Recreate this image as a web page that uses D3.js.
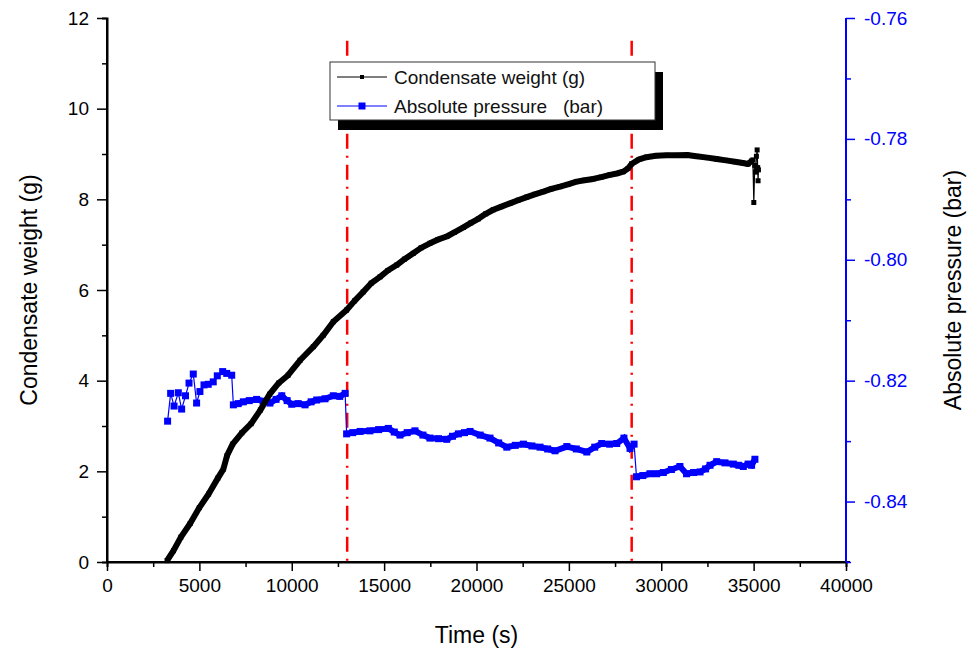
<!DOCTYPE html>
<html>
<head>
<meta charset="utf-8">
<script src="https://cdn.jsdelivr.net/npm/d3@7"></script>
<style>
  body { margin: 0; background: #fff; }
  svg { font-family: Arial, "Liberation Sans", sans-serif; }
</style>
</head>
<body>
<svg id="chart" width="968" height="652"></svg>
<script>
// time (s) and condensate weight (g)
var weightTime = [3250, 3600, 4000, 4500, 5000, 5500, 6000, 6300, 6500, 6800, 7300, 7800, 8300, 8800, 9300, 9800,
    10450, 11170, 11700, 12250, 12970, 13400, 13870, 14300, 14780, 15200, 15680, 16100, 16580, 17000, 17480,
    17900, 18390, 18800, 19290, 19700, 20100, 20500, 20910, 21350, 21810, 22250, 22720, 23150, 23620, 24050,
    24520, 24950, 25420, 25850, 26320, 26750, 27220, 27600, 27940, 28200, 28390, 28800, 29200, 29700, 30300,
    30900, 31400, 31900, 32500, 33000, 33500, 34000, 34420, 34700, 34900, 34960, 35010, 35060, 35100, 35150,
    35190, 35220, 35240, 35260];
var weightValue = [0.03, 0.25, 0.55, 0.85, 1.2, 1.5, 1.85, 2.05, 2.35, 2.6, 2.85, 3.05, 3.35, 3.7, 3.95, 4.12,
    4.45, 4.75, 5.0, 5.3, 5.56, 5.76, 5.96, 6.15, 6.29, 6.43, 6.55, 6.68, 6.81, 6.93, 7.03,
    7.11, 7.18, 7.27, 7.38, 7.48, 7.57, 7.68, 7.77, 7.84, 7.91, 7.98, 8.05, 8.11, 8.17, 8.23,
    8.28, 8.33, 8.39, 8.42, 8.45, 8.49, 8.54, 8.57, 8.61, 8.68, 8.78, 8.88, 8.93, 8.96, 8.97,
    8.97, 8.98, 8.95, 8.92, 8.89, 8.86, 8.83, 8.8, 8.78, 8.85, 8.87, 7.93, 8.75, 8.6, 8.95,
    9.09, 8.7, 8.41, 8.65];

// time (s) and absolute pressure (bar)
var pressureTime = [3280, 3445, 3630, 3860, 4040, 4250, 4440, 4670, 4850, 5030, 5250, 5480, 5750, 5970, 6260,
    6480, 6750, 6840, 7100, 7380, 7700, 8100, 8450, 8820, 9150, 9460, 9750, 10000, 10350, 10720, 11050,
    11350, 11800, 12250, 12600, 12890, 12970, 13300, 13700, 14230, 14700, 15230, 15550, 15860, 16250,
    16670, 17100, 17480, 17950, 18390, 18700, 19020, 19350, 19650, 20200, 20730, 21200, 21640, 22100,
    22540, 23000, 23440, 23850, 24250, 24890, 25400, 25970, 26400, 26780, 27200, 27590, 27980, 28310,
    28530, 28660, 29000, 29390, 29750, 30110, 30550, 31010, 31370, 31750, 32100, 32400, 32640, 33000,
    33450, 33900, 34200, 34440, 34700, 34890, 35070];
var pressureValue = [-0.8267, -0.8221, -0.8242, -0.8220, -0.8247, -0.8225, -0.8204, -0.8189, -0.8237, -0.8218,
    -0.8207, -0.8206, -0.8202, -0.8192, -0.8185, -0.8188, -0.8191, -0.8240, -0.8238, -0.8235, -0.8233,
    -0.8231, -0.8234, -0.8237, -0.8231, -0.8225, -0.8233, -0.8239, -0.8238, -0.8240, -0.8235, -0.8232,
    -0.8230, -0.8225, -0.8226, -0.8221, -0.8288, -0.8286, -0.8284, -0.8283, -0.8281, -0.8279, -0.8285,
    -0.8290, -0.8286, -0.8283, -0.8290, -0.8295, -0.8296, -0.8297, -0.8292, -0.8288, -0.8286, -0.8284,
    -0.8290, -0.8295, -0.8303, -0.8310, -0.8307, -0.8305, -0.8308, -0.8310, -0.8313, -0.8316, -0.8309,
    -0.8313, -0.8318, -0.8310, -0.8304, -0.8305, -0.8304, -0.8295, -0.8312, -0.8305, -0.8359, -0.8357,
    -0.8354, -0.8354, -0.8352, -0.8347, -0.8342, -0.8354, -0.8352, -0.8351, -0.8346, -0.8340, -0.8334,
    -0.8336, -0.8338, -0.8340, -0.8342, -0.8338, -0.8340, -0.8330];

// vertical stage markers (s)
var stageLines = [13000, 28400];

var xTicks = [0, 5000, 10000, 15000, 20000, 25000, 30000, 35000, 40000];
var yLeftTicks = [0, 2, 4, 6, 8, 10, 12];
var yRightTicks = [-0.84, -0.82, -0.80, -0.78, -0.76];

var legendLabels = ["Condensate weight (g)", "Absolute pressure   (bar)"];

var svg = d3.select("#chart");
var margin = {left: 107, right: 122, top: 18, bottom: 90};
var W = 968, H = 652;

var x = d3.scaleLinear().domain([0, 40000]).range([margin.left, W - margin.right]);
var yL = d3.scaleLinear().domain([0, 12]).range([H - margin.bottom, margin.top]);
var yR = d3.scaleLinear().domain([-0.85, -0.76]).range([H - margin.bottom, margin.top]);

var weight = weightTime.map(function(t, i) { return {t: t, v: weightValue[i]}; });
var pressure = pressureTime.map(function(t, i) { return {t: t, v: pressureValue[i]}; });

// red dash-dot stage lines
svg.selectAll(".stage")
    .data(stageLines)
    .enter().append("line")
    .attr("class", "stage")
    .attr("x1", function(d) { return x(d); })
    .attr("x2", function(d) { return x(d); })
    .attr("y1", yL(11.5))
    .attr("y2", yL(0))
    .attr("stroke", "#ff0000")
    .attr("stroke-width", 2.5)
    .attr("stroke-dasharray", "15,7,2,7");

// pressure series (blue); after the first stage the markers overlap into a band
var pLine = d3.line().x(function(d) { return x(d.t); }).y(function(d) { return yR(d.v); });
svg.append("path")
    .datum(pressure)
    .attr("d", pLine)
    .attr("fill", "none")
    .attr("stroke", "#0000ff")
    .attr("stroke-width", 1.2);
[[6840, 12890], [12970, 28530], [28660, 35070]].forEach(function(seg) {
    svg.append("path")
        .datum(pressure.filter(function(d) { return d.t >= seg[0] && d.t <= seg[1]; }))
        .attr("d", pLine)
        .attr("fill", "none")
        .attr("stroke", "#0000ff")
        .attr("stroke-width", 6);
});
svg.selectAll(".pm")
    .data(pressure)
    .enter().append("rect")
    .attr("class", "pm")
    .attr("x", function(d) { return x(d.t) - 3.5; })
    .attr("y", function(d) { return yR(d.v) - 3.5; })
    .attr("width", 7)
    .attr("height", 7)
    .attr("fill", "#0000ff");

// weight series (black, dense markers drawn as a thick band)
var wLine = d3.line().x(function(d) { return x(d.t); }).y(function(d) { return yL(d.v); });
svg.append("path")
    .datum(weight.filter(function(d) { return d.t < 34950; }))
    .attr("d", wLine)
    .attr("fill", "none")
    .attr("stroke", "#000")
    .attr("stroke-width", 6)
    .attr("stroke-linejoin", "round");
svg.append("path")
    .datum(weight)
    .attr("d", wLine)
    .attr("fill", "none")
    .attr("stroke", "#000")
    .attr("stroke-width", 1.2);
svg.selectAll(".wm")
    .data(weight)
    .enter().append("rect")
    .attr("class", "wm")
    .attr("x", function(d) { return x(d.t) - 2.5; })
    .attr("y", function(d) { return yL(d.v) - 2.5; })
    .attr("width", 5)
    .attr("height", 5)
    .attr("fill", "#000");

// axes
var hyphenFmt = function(d) { return d3.format(".2f")(d).replace("\u2212", "-"); };

var bottomAxis = svg.append("g")
    .attr("transform", "translate(0," + yL(0) + ")")
    .call(d3.axisBottom(x).tickValues(xTicks).tickSize(9).tickPadding(8).tickFormat(d3.format("d")));
svg.append("g")
    .attr("transform", "translate(0," + yL(0) + ")")
    .call(d3.axisBottom(x).tickValues(d3.range(2500, 40000, 5000)).tickSize(5).tickFormat(""));

var leftAxis = svg.append("g")
    .attr("transform", "translate(" + margin.left + ",0)")
    .call(d3.axisLeft(yL).tickValues(yLeftTicks).tickSize(10).tickPadding(8).tickFormat(d3.format("d")));
svg.append("g")
    .attr("transform", "translate(" + margin.left + ",0)")
    .call(d3.axisLeft(yL).tickValues(d3.range(1, 12, 2)).tickSize(5).tickFormat(""));

var rightAxis = svg.append("g")
    .attr("class", "right")
    .attr("transform", "translate(" + (W - margin.right) + ",0)")
    .call(d3.axisRight(yR).tickValues(yRightTicks).tickSize(9).tickPadding(9).tickFormat(hyphenFmt));
svg.append("g")
    .attr("class", "right")
    .attr("transform", "translate(" + (W - margin.right) + ",0)")
    .call(d3.axisRight(yR).tickValues([-0.85, -0.83, -0.81, -0.79, -0.77]).tickSize(5).tickFormat(""));

svg.selectAll(".domain").attr("stroke-width", 2);
svg.selectAll(".tick line").attr("stroke-width", 1.5);
svg.selectAll("g text").attr("font-size", 19).attr("font-family", "Arial, 'Liberation Sans', sans-serif");
svg.selectAll("g.right .domain").attr("stroke", "#0000ff").attr("d", "M0," + yR(-0.85) + "V" + yR(-0.76));
svg.selectAll("g.right .tick line").attr("stroke", "#0000ff");
svg.selectAll("g.right text").attr("fill", "#0000ff");
bottomAxis.select(".domain").attr("d", "M" + x(0) + ",0H" + (x(40000) + 4));
leftAxis.select(".domain").attr("d", "M0," + yL(0) + "V" + yL(12));

// axis titles
svg.append("text")
    .attr("x", (x(0) + x(40000)) / 2)
    .attr("y", 643)
    .attr("text-anchor", "middle")
    .attr("font-size", 23)
    .text("Time (s)");
svg.append("text")
    .attr("transform", "translate(37," + yL(6) + ") rotate(-90)")
    .attr("text-anchor", "middle")
    .attr("font-size", 23)
    .text("Condensate weight (g)");
svg.append("text")
    .attr("transform", "translate(961," + yL(6) + ") rotate(-90)")
    .attr("text-anchor", "middle")
    .attr("font-size", 23)
    .text("Absolute pressure (bar)");

// legend with drop shadow
var lg = svg.append("g").attr("transform", "translate(330,62)");
lg.append("rect").attr("x", 8).attr("y", 10).attr("width", 325).attr("height", 58).attr("fill", "#000");
lg.append("rect").attr("x", 0).attr("y", 0).attr("width", 325).attr("height", 58)
    .attr("fill", "#fff").attr("stroke", "#333").attr("stroke-width", 1);
var legendColor = ["#000", "#0000ff"];
var legendMark = [4, 7];
legendLabels.forEach(function(label, i) {
    var yy = 15 + i * 29;
    lg.append("line").attr("x1", 7).attr("x2", 57).attr("y1", yy).attr("y2", yy)
        .attr("stroke", legendColor[i]).attr("stroke-width", 1.2);
    lg.append("rect").attr("x", 32 - legendMark[i] / 2).attr("y", yy - legendMark[i] / 2)
        .attr("width", legendMark[i]).attr("height", legendMark[i]).attr("fill", legendColor[i]);
    lg.append("text").attr("x", 64).attr("y", yy + 7).attr("font-size", 19).attr("fill", "#111")
        .style("white-space", "pre").text(label);
});
</script>
</body>
</html>
